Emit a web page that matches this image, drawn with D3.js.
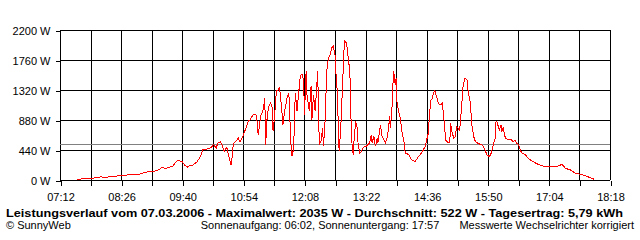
<!DOCTYPE html>
<html>
<head>
<meta charset="utf-8">
<script src="https://cdn.jsdelivr.net/npm/d3@7"></script>
<style>
  body { margin: 0; background: #fff; }
  svg { display: block; font-family: "Liberation Sans", Arial, sans-serif; }
</style>
</head>
<body>
<div id="chart"></div>
<script>
// power readings (time of day, watts)
const times = [
  "07:33","07:39","07:48","07:51","08:02","08:04","08:16","08:25","08:33","08:48",
  "08:51","08:57","09:05","09:11","09:16","09:20","09:23","09:28","09:31","09:35",
  "09:40","09:43","09:46","09:49","09:53","09:58","10:02","10:05","10:10","10:15",
  "10:18","10:21","10:23","10:26","10:28","10:31","10:33","10:34","10:37","10:39",
  "10:40","10:42","10:44","10:48","10:50","10:54","10:57","11:00","11:02","11:06",
  "11:10","11:12","11:15","11:18","11:20","11:21","11:23","11:25","11:27","11:29",
  "11:30","11:32","11:34","11:36","11:38","11:40","11:42","11:44","11:47","11:49",
  "11:50","11:51","11:53","11:55","11:56","11:57","11:59","12:01","12:03","12:05",
  "12:07","12:08","12:10","12:11","12:14","12:16","12:17","12:19","12:21","12:24",
  "12:26","12:28","12:30","12:31","12:33","12:35","12:37","12:39","12:41","12:43",
  "12:45","12:46","12:48","12:49","12:50","12:52","12:54","12:56","12:57","12:59",
  "13:01","13:03","13:04","13:06","13:07","13:08","13:10","13:12","13:13","13:15",
  "13:17","13:19","13:21","13:23","13:25","13:27","13:29","13:30","13:32","13:34",
  "13:36","13:37","13:40","13:42","13:44","13:46","13:48","13:50","13:51","13:52",
  "13:54","13:55","13:56","13:58","13:59","14:00","14:02","14:04","14:06","14:08",
  "14:09","14:10","14:14","14:18","14:22","14:26","14:30","14:34","14:36","14:38",
  "14:39","14:41","14:43","14:44","14:46","14:48","14:50","14:53","14:55","14:57",
  "14:59","15:02","15:04","15:05","15:07","15:09","15:11","15:12","15:14","15:16",
  "15:18","15:20","15:22","15:25","15:26","15:29","15:30","15:31","15:33","15:35",
  "15:38","15:43","15:45","15:47","15:49","15:52","15:54","15:56","15:59","16:00",
  "16:01","16:04","16:06","16:07","16:09","16:10","16:12","16:15","16:18","16:21",
  "16:23","16:25","16:27","16:28","16:29","16:31","16:35","16:39","16:43","16:47",
  "16:51","16:57","17:03","17:09","17:15","17:20","17:24","17:30","17:36","17:42",
  "17:48","17:54","17:59"
];
const watts = [
  0,19,15,25,48,40,48,69,73,84,
  98,117,122,147,186,161,186,195,245,289,
  268,220,186,210,220,268,342,450,455,474,
  524,465,538,562,513,415,465,474,318,220,
  293,538,562,611,562,660,758,861,880,964,
  949,664,934,1031,1203,518,958,1081,1129,1056,
  714,958,1301,1324,1349,1104,811,1008,1203,1276,
  1104,616,348,469,958,1276,1008,1276,1521,1555,
  1471,958,1594,1251,1008,1374,884,1251,1008,1594,
  518,568,763,494,861,1594,1789,1838,1936,1961,
  1838,1594,1251,763,421,763,1349,1936,2035,2009,
  1789,1594,1008,421,396,568,861,763,518,396,
  421,469,494,494,518,543,664,543,641,494,
  616,543,811,641,591,543,616,763,934,763,
  1056,1374,1594,1398,1496,1154,1008,909,710,590,
  543,391,377,293,268,342,400,488,587,685,
  880,1173,1198,1272,1310,1222,1125,1100,1125,880,
  587,547,547,831,685,612,635,782,758,733,
  1027,1368,1491,1467,1320,1125,928,782,635,562,
  538,513,488,430,367,342,392,488,612,855,
  855,733,807,708,782,660,612,587,597,562,
  587,538,528,488,450,400,377,318,283,254,
  230,205,195,195,205,230,172,147,98,84,
  63,34,10
];
const average = 522;

const xStart = "07:12", xEnd = "18:18", xStep = 37;
const yTicks = [0, 440, 880, 1320, 1760, 2200];

const titleText = "Leistungsverlauf vom 07.03.2006 - Maximalwert: 2035 W - Durchschnitt: 522 W - Tagesertrag: 5,79 kWh";
const sunText = "Sonnenaufgang: 06:02, Sonnenuntergang: 17:57";
const noteText = "Messwerte Wechselrichter korrigiert";
const creditText = "\u00a9 SunnyWeb";

const toMin = (s) => { const [h, m] = s.split(":"); return +h * 60 + +m; };
const fmt = (m) => String(Math.floor(m / 60)).padStart(2, "0") + ":" + String(m % 60).padStart(2, "0");

const W = 640, H = 240;
const plot = { left: 60, right: 610, top: 30, bottom: 180 };

const svg = d3.select("#chart").append("svg")
  .attr("width", W)
  .attr("height", H);

const x = d3.scaleLinear([toMin(xStart), toMin(xEnd)], [plot.left, plot.right]);
const y = d3.scaleLinear([0, 2200], [plot.bottom, plot.top]);

const xTicks = d3.range(toMin(xStart), toMin(xEnd) + 1, xStep);

// grid
const grid = svg.append("g").attr("stroke", "#000").attr("shape-rendering", "crispEdges");
grid.selectAll(".h").data(yTicks).join("line")
  .attr("x1", plot.left).attr("x2", plot.right)
  .attr("y1", (d) => Math.round(y(d)) + 0.5).attr("y2", (d) => Math.round(y(d)) + 0.5);
grid.selectAll(".v").data(xTicks).join("line")
  .attr("x1", (d) => Math.round(x(d)) + 0.5).attr("x2", (d) => Math.round(x(d)) + 0.5)
  .attr("y1", plot.top).attr("y2", plot.bottom);

// axes
const yAxis = svg.append("g")
  .attr("transform", `translate(${plot.left + 0.5},0.5)`)
  .call(d3.axisLeft(y).tickValues(yTicks).tickSize(5).tickSizeOuter(0).tickPadding(5)
    .tickFormat((d) => d + " W"));
const xAxis = svg.append("g")
  .attr("transform", `translate(0.5,${plot.bottom + 0.5})`)
  .call(d3.axisBottom(x).tickValues(xTicks).tickSize(5).tickSizeOuter(0).tickPadding(8)
    .tickFormat((d, i) => (i % 2 === 0 ? fmt(d) : "")));
[yAxis, xAxis].forEach((a) => {
  a.select(".domain").remove();
  a.selectAll("line").attr("stroke", "#000").attr("shape-rendering", "crispEdges");
  a.selectAll("text").attr("fill", "#000")
    .style("font-family", "Liberation Sans, Arial, sans-serif").style("font-size", "11px");
});

// average line
svg.append("line")
  .attr("x1", plot.left).attr("x2", plot.right)
  .attr("y1", Math.round(y(average)) + 0.5).attr("y2", Math.round(y(average)) + 0.5)
  .attr("stroke", "#808080")
  .attr("shape-rendering", "crispEdges");

// power line
const data = times.map((t, i) => ({ t: toMin(t), w: watts[i] }));
svg.append("path")
  .datum(data)
  .attr("fill", "none")
  .attr("stroke", "#ff0000")
  .attr("stroke-width", 1)
  .attr("shape-rendering", "crispEdges")
  .attr("d", d3.line().x((d) => x(d.t)).y((d) => y(d.w)));

// footer texts
svg.append("text")
  .attr("x", 6).attr("y", 217)
  .attr("font-size", 11.5).attr("font-weight", "bold")
  .attr("textLength", 617).attr("lengthAdjust", "spacingAndGlyphs")
  .text(titleText);
svg.append("text")
  .attr("x", 6).attr("y", 229)
  .attr("font-size", 11)
  .text(creditText);
svg.append("text")
  .attr("x", 320).attr("y", 229)
  .attr("font-size", 11).attr("text-anchor", "middle")
  .text(sunText);
svg.append("text")
  .attr("x", 634).attr("y", 229)
  .attr("font-size", 11).attr("text-anchor", "end")
  .text(noteText);
</script>
</body>
</html>
